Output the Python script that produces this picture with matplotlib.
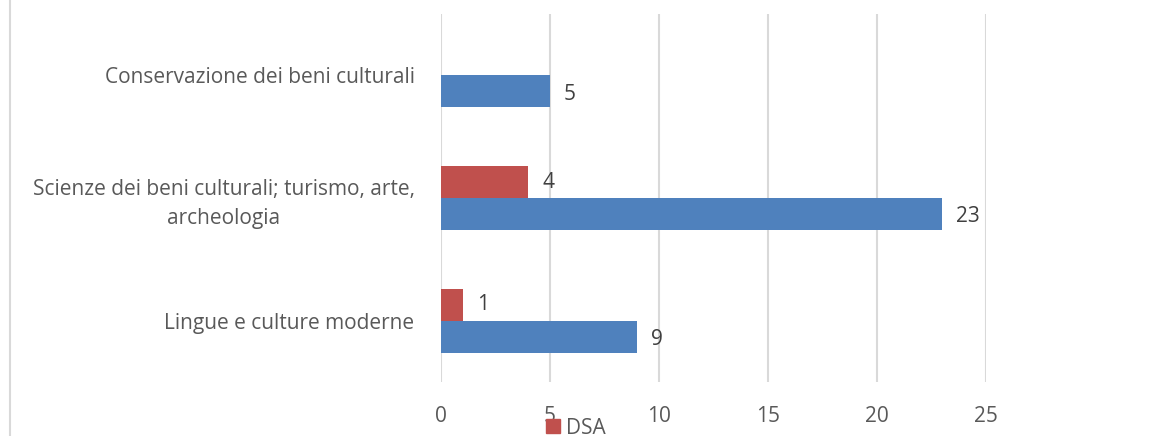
import matplotlib.pyplot as plt
from matplotlib.lines import Line2D
from matplotlib.patches import Patch
import numpy as np

categories = ['Lingue e culture moderne',
              'Scienze dei beni culturali; turismo, arte,\narcheologia',
              'Conservazione dei beni culturali']
totale = [9, 23, 5]
dsa = [1, 4, None]

BLUE = '#4F81BD'
RED = '#C0504D'
TXT = '#595959'
GRID = '#D9D9D9'

plt.rcParams['font.family'] = ['Open Sans', 'DejaVu Sans']

fig = plt.figure(figsize=(11.73, 4.36), dpi=100)
ax = fig.add_axes([441 / 1173, 1 - 382 / 436, (986 - 441) / 1173, (382 - 14) / 436])

y = np.arange(len(categories))
h = 0.26
ax.barh(y - h / 2, totale, height=h, color=BLUE)
dsa_y = [yy + h / 2 for yy, v in zip(y, dsa) if v is not None]
dsa_v = [v for v in dsa if v is not None]
ax.barh(dsa_y, dsa_v, height=h, color=RED)

for yy, v in zip(y - h / 2, totale):
    ax.annotate(str(v), (v, yy), xytext=(10, -2), textcoords='offset points',
                ha='left', va='center', fontsize=15, color='#404040')
for yy, v in zip(dsa_y, dsa_v):
    ax.annotate(str(v), (v, yy), xytext=(10, 0), textcoords='offset points',
                ha='left', va='center', fontsize=15, color='#404040')

ax.set_xlim(0, 25)
ax.set_ylim(-0.5, 2.5)
ax.set_xticks(range(0, 26, 5))
ax.set_yticks(y)
ax.set_yticklabels(categories, multialignment='center', linespacing=1.45)
ax.tick_params(axis='x', length=0, pad=17, labelsize=15, labelcolor=TXT)
ax.tick_params(axis='y', length=0, pad=19, labelsize=15, labelcolor=TXT)
ax.xaxis.grid(True, color=GRID, linewidth=1.5)
ax.set_axisbelow(True)
for s in ax.spines.values():
    s.set_visible(False)

# frame line at the left edge
fig.add_artist(Line2D([10 / 1173, 10 / 1173], [0, 1], color=GRID, linewidth=1.5))

fig.legend(handles=[Patch(color=RED, label='DSA')], loc='center',
           bbox_to_anchor=(576 / 1173, 1 - 428 / 436), frameon=False,
           handlelength=0.65, handleheight=0.65, handletextpad=0.3,
           fontsize=15, labelcolor=TXT)

fig.savefig('out.png', dpi=100)
